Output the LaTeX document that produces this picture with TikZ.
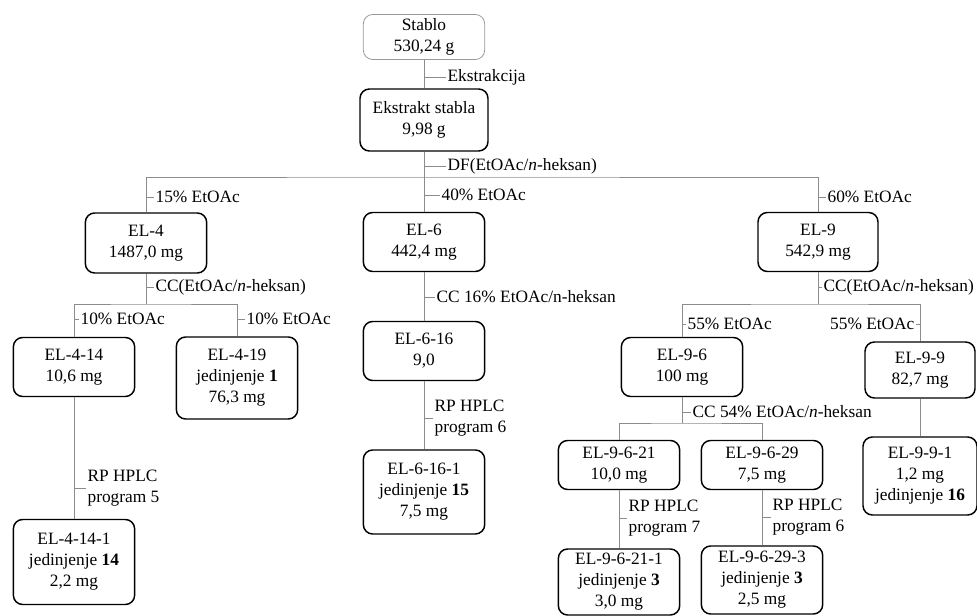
\documentclass[tikz,border=0pt]{standalone}
\usepackage{fontspec}
\setmainfont{Liberation Serif}
\usetikzlibrary{positioning,calc}

\begin{document}
\begin{tikzpicture}[
    x=0.75pt, y=-0.75pt,
    every node/.style={font=\fontsize{13}{15.75}\selectfont},
    box/.style={rectangle, draw=black, line width=1.1pt, rounded corners=7pt, align=center, inner sep=0pt, minimum width=91pt, minimum height=44.25pt},
    topbox/.style={box, draw=black!40, line width=0.6pt},
    link/.style={draw=black!45, line width=0.6pt},
    lbl/.style={inner sep=1pt, align=left}
]
    \useasboundingbox (0,0) rectangle (977,616);

    \node [topbox, minimum height=33.75pt] (stablo) at (424,37) {Stablo\\530,24 g};
    \node [box, minimum width=96pt, minimum height=46.5pt] (ekstrakt) at (424,120) {Ekstrakt stabla\\9,98 g};
    \node [box, minimum height=45pt] (el4) at (146,243) {EL-4\\1487,0 mg};
    \node [box] (el6) at (424,242) {EL-6\\442,4 mg};
    \node [box, minimum width=90pt] (el9) at (818,242) {EL-9\\542,9 mg};
    \node [box] (el414) at (74,367) {EL-4-14\\10,6 mg};
    \node [box, minimum height=61.5pt] (el419) at (237,378) {EL-4-19\\jedinjenje \textbf{1}\\76,3 mg};
    \node [box] (el616) at (424,351) {EL-6-16\\9,0};
    \node [box] (el96) at (682,367) {EL-9-6\\100 mg};
    \node [box, minimum width=82.5pt, minimum height=42pt] (el99) at (920,370) {EL-9-9\\82,7 mg};
    \node [box, minimum height=63.75pt] (el4141) at (74,562) {EL-4-14-1\\jedinjenje \textbf{14}\\2,2 mg};
    \node [box, minimum height=63pt] (el6161) at (424,492) {EL-6-16-1\\jedinjenje \textbf{15}\\7,5 mg};
    \node [box, minimum height=36.75pt] (el9621) at (619,465) {EL-9-6-21\\10,0 mg};
    \node [box, minimum height=36.75pt] (el9629) at (762,465) {EL-9-6-29\\7,5 mg};
    \node [box, minimum width=85.5pt, minimum height=58.5pt] (el991) at (920,476) {EL-9-9-1\\1,2 mg\\jedinjenje \textbf{16}};
    \node [box, minimum height=49.5pt] (el96211) at (619,582) {EL-9-6-21-1\\jedinjenje \textbf{3}\\3,0 mg};
    \node [box, minimum height=51pt] (el96293) at (762,580) {EL-9-6-29-3\\jedinjenje \textbf{3}\\2,5 mg};

    \coordinate (b1) at (424,177);
    \coordinate (b2) at (146,304);
    \coordinate (b3) at (818,304);
    \coordinate (b4) at (682,423);

    \draw [link] (stablo) -- (ekstrakt);
    \draw [link] (ekstrakt) -- (el6);
    \draw [link] (el4.north) |- (b1) -| (el9.north);
    \draw [link] (el4) -- (b2);
    \draw [link] (el414.north) |- (b2) -| (el419.north);
    \draw [link] (el414) -- (el4141);
    \draw [link] (el6) -- (el616);
    \draw [link] (el616) -- (el6161);
    \draw [link] (el9) -- (b3);
    \draw [link] (el96.north) |- (b3) -| (el99.north);
    \draw [link] (el96) -- (b4);
    \draw [link] (el9621.north) |- (b4) -| (el9629.north);
    \draw [link] (el9621) -- (el96211);
    \draw [link] (el9629) -- (el96293);
    \draw [link] (el99) -- (el991);

    \node [lbl, anchor=west] (lext) at (446,77) {Ekstrakcija};
    \node [lbl, anchor=west] (ldf) at (446,166) {DF(EtOAc/\textit{n}-heksan)};
    \node [lbl, anchor=west] (l15) at (154,197) {15\% EtOAc};
    \node [lbl, anchor=west] (l40) at (440,195) {40\% EtOAc};
    \node [lbl, anchor=west] (l60) at (826,197) {60\% EtOAc};
    \node [lbl, anchor=west] (lcc4) at (154,287) {CC(EtOAc/\textit{n}-heksan)};
    \node [lbl, anchor=west] (l10a) at (79,319) {10\% EtOAc};
    \node [lbl, anchor=west] (l10b) at (245,319) {10\% EtOAc};
    \node [lbl, anchor=west] (lcc6) at (435,297) {CC 16\% EtOAc/n-heksan};
    \node [lbl, anchor=west] (lcc9) at (822,287) {CC(EtOAc/\textit{n}-heksan)};
    \node [lbl, anchor=west] (l55a) at (686,324) {55\% EtOAc};
    \node [lbl, anchor=east] (l55b) at (916,324) {55\% EtOAc};
    \node [lbl, anchor=west] (lcc96) at (691,412) {CC 54\% EtOAc/\textit{n}-heksan};
    \node [lbl, anchor=west] (lrp5) at (86,488) {RP HPLC\\program 5};
    \node [lbl, anchor=west] (lrp6) at (433,418) {RP HPLC\\program 6};
    \node [lbl, anchor=west] (lrp7) at (627,518) {RP HPLC\\program 7};
    \node [lbl, anchor=west] (lrp6b) at (771,517) {RP HPLC\\program 6};

    \foreach \l/\p in {lext/stablo, ldf/ekstrakt, l15/el4, l40/el6, l60/el9, lcc4/el4, l10a/el414, l10b/el419, lcc6/el6, lcc9/el9, l55a/el96, lcc96/el96, lrp5/el414, lrp6/el616, lrp7/el9621, lrp6b/el9629}
        \draw [link] (\l.west -| \p.north) -- (\l.west);
    \draw [link] (l55b.east -| el99.north) -- (l55b.east);
\end{tikzpicture}
\end{document}
